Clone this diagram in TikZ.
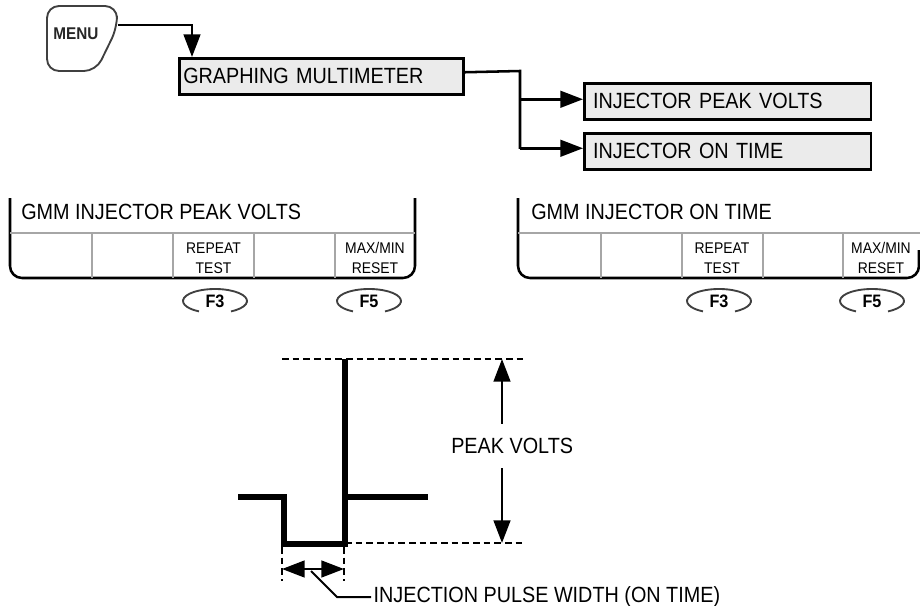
\documentclass[tikz,border=0pt]{standalone}
\usepackage{fontspec}
\setmainfont[FakeStretch=0.9]{Liberation Sans}
\usepackage{tikz}
\usetikzlibrary{arrows.meta,positioning,calc}
\definecolor{boxgray}{gray}{0.92}

\begin{document}
\begin{tikzpicture}[x=0.75pt, y=-0.75pt, line width=1.9pt,
    >={Triangle[length=17pt,width=12.5pt]},
    txt/.style={font=\fontsize{16.5}{19}\selectfont},
    menubox/.style={txt, draw, fill=boxgray, anchor=north west, align=left,
        minimum height=27pt, inner xsep=3pt},
    btn/.style={font=\fontsize{11.6}{15}\selectfont, align=center, inner sep=0pt},
    fkey/.style={font=\fontsize{13.5}{15}\bfseries\selectfont, inner sep=1pt},
    keyline/.style={line width=1.4pt, draw=black!75},
    divider/.style={line width=1pt, draw=gray!70},
    wave/.style={line width=3.9pt, line join=miter},
    guide/.style={dashed, dash pattern=on 5pt off 3pt, line width=1.7pt}]
    \useasboundingbox (0,0) rectangle (920,606);

    % MENU 键
    \draw[keyline, rounded corners=9pt] (47,71) -- (47,6) -- (117,6) -- (117,28) -- (96,71) -- cycle;
    \node[font=\fontsize{12.75}{14}\bfseries\selectfont, text=black!85] (menu) at (76,34) {MENU};
    \coordinate (menuout) at (118,25);

    % 菜单框
    \node[menubox, text width=207pt] (gm) at (178,57) {GRAPHING MULTIMETER};
    \node[menubox, text width=202pt, inner xsep=6.6pt] (ipv) at (583,82) {INJECTOR PEAK VOLTS};
    \node[menubox, text width=202pt, inner xsep=6.6pt] (iot) at (583,132) {INJECTOR ON TIME};

    \draw[->] (menuout) -| ([xshift=10.5pt]gm.north west);
    \coordinate (split) at (520,71);
    \coordinate (splitend) at (520,149);
    \draw ([yshift=3pt]gm.east) -- (split) -- (splitend);
    \draw[->] (split |- ipv.west) ++(0,-2) -- ([yshift=1.5pt]ipv.west);
    \draw[->] (split |- iot.west) ++(0,-3) -- ([yshift=2.25pt]iot.west);

    % 左面板
    \draw[rounded corners=9pt] (10,198) -- (10,278) -- (415,278) -- (415,198);
    \draw[divider] (10,233) -- (415,233);
    \foreach \x in {92,173,254,335} \draw[divider] (\x,233) -- (\x,278);
    \node[txt, anchor=base west, inner sep=0pt] (ttlA) at (20,219) {GMM INJECTOR PEAK VOLTS};
    \node[btn] (rptA) at (213.5,258) {REPEAT\\TEST};
    \node[btn] (maxA) at (375,258) {MAX/MIN\\RESET};

    % 右面板
    \draw[rounded corners=9pt] (518,198) -- (518,278) -- (919,278) -- (919,250);
    \draw[divider] (518,233) -- (920,233);
    \foreach \x in {601,682,763,843} \draw[divider] (\x,233) -- (\x,278);
    \node[txt, anchor=base west, inner sep=0pt] (ttlB) at (530,219) {GMM INJECTOR ON TIME};
    \node[btn] (rptB) at (722,258) {REPEAT\\TEST};
    \node[btn] (maxB) at (881,258) {MAX/MIN\\RESET};

    % 功能键
    \foreach \nm/\x/\t in {f3A/215/F3, f5A/369/F5, f3B/719/F3, f5B/872/F5} {
        \node[fkey] (\nm) at (\x,301) {\t};
        \draw[keyline] ($(\nm)+(16,10.39)$) arc[start angle=60, end angle=-240, x radius=32, y radius=12];
    }

    % 波形
    \draw[wave] (238,497) -- (284,497) -- (284,544) -- (345,544) -- (345,359);
    \draw[wave] (345,497) -- (428,497);

    % 虚线
    \draw[guide] (282,359) -- (523,359);
    \draw[guide] (345,543) -- (523,543);
    \draw[guide] (282,547) -- (282,581);
    \draw[guide] (344,547) -- (344,581);

    % 峰值电压
    \coordinate (ptop) at (502,359);
    \coordinate (pbot) at (502,543);
    \node[txt, anchor=west, inner xsep=0pt, inner ysep=10pt] (pv) at (450,446) {PEAK VOLTS};
    \draw[->] (pv.north -| ptop) -- (ptop);
    \draw[->] (pv.south -| pbot) -- (pbot);

    % 脉宽
    \coordinate (pwl) at (282,569);
    \coordinate (pwr) at (344,569);
    \draw[<->] (pwl) -- (pwr);
    \node[txt, anchor=west, inner sep=1pt] (pw) at (371,597) {INJECTION PULSE WIDTH (ON TIME)};
    \draw[line width=1.5pt] (pw.west) -- (337,597) -- (311,571);
\end{tikzpicture}
\end{document}
